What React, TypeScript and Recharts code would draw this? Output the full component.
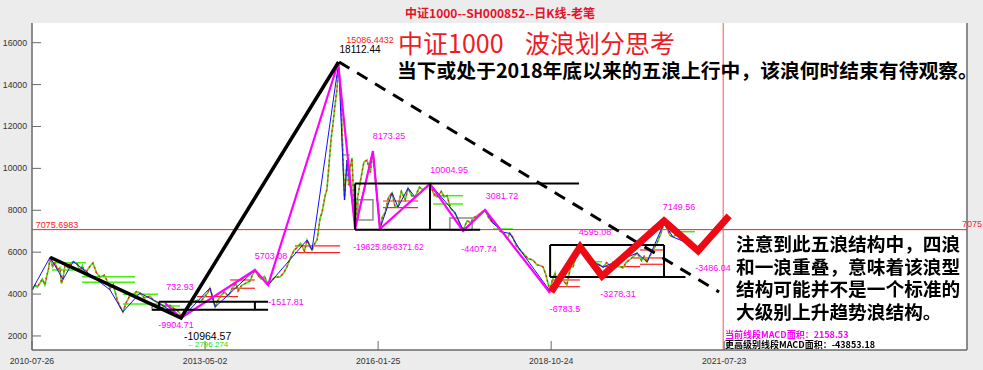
import {
  LineChart,
  Line,
  XAxis,
  YAxis,
  ReferenceLine,
  ReferenceArea,
  ReferenceDot,
} from "recharts";

// x is a trading-day index counted from 2010-07-26
const dateTicks = [0, 670, 1340, 2010, 2680];
const dateLabels = ["2010-07-26", "2013-05-02", "2016-01-25", "2018-10-24", "2021-07-23"];
const priceTicks = [2000, 4000, 6000, 8000, 10000, 12000, 14000, 16000];

// daily close, [day, price]
const close2010 = [
  [0, 4200], [12, 4420], [20, 4330], [31, 4530], [40, 4720], [50, 4440], [58, 4900], [64, 5200],
  [70, 5760], [80, 5300], [89, 5480], [100, 5150], [108, 5260], [114, 4500], [120, 4750], [128, 5400],
  [140, 5250], [150, 5480], [160, 5550], [175, 5450], [186, 5100], [195, 5350], [205, 4950], [217, 5200],
  [228, 5380], [236, 5480], [250, 5000], [263, 4820], [280, 4900], [292, 4600], [302, 4250], [315, 4450],
  [329, 3750], [340, 3420], [352, 3150], [365, 3600], [380, 3950], [391, 3980], [405, 4120], [418, 4050],
  [435, 3820], [457, 3900], [470, 3700], [484, 3620], [500, 3500], [515, 3420], [535, 3460], [550, 3300],
  [561, 3240], [572, 3080], [581, 2860], [595, 3200], [610, 3420], [623, 3580], [640, 3720], [650, 3600],
  [660, 3750],
];
const close2013 = [
  [670, 3900], [680, 4050], [689, 4290], [700, 3820], [709, 3380], [720, 3700], [728, 3860], [745, 4100],
  [760, 3900], [778, 4340], [790, 4500], [798, 4150], [812, 4420], [825, 4500], [844, 4620], [853, 4900],
  [863, 5150], [875, 4900], [887, 4720], [900, 4850], [914, 4450], [925, 4600], [940, 4800], [960, 4820],
  [975, 5020], [987, 5300], [1000, 5700], [1015, 6100], [1026, 6220], [1040, 6420], [1055, 6050],
  [1065, 6580], [1075, 6300], [1084, 6100], [1095, 6420], [1104, 6600], [1115, 7600], [1123, 7900],
  [1135, 8700], [1142, 9000], [1150, 10200], [1158, 11400], [1165, 12100], [1173, 13000], [1181, 13800],
  [1187, 15030],
];
const close2015 = [
  [1192, 14200], [1196, 13400], [1200, 12000], [1204, 10500], [1210, 8500], [1215, 9600], [1220, 10400],
  [1226, 9200], [1231, 10000], [1239, 10500], [1245, 8600], [1251, 7200], [1258, 8400], [1270, 9300],
  [1285, 10300], [1297, 10400], [1310, 9800], [1320, 10830], [1328, 9800], [1336, 8600], [1342, 7900],
  [1347, 7120], [1357, 7700], [1367, 7870], [1380, 8600], [1394, 8830], [1405, 8200], [1417, 8150],
  [1430, 8900], [1445, 8500], [1456, 9060], [1470, 8700], [1483, 8630], [1500, 9100], [1514, 8970],
  [1530, 9150], [1541, 9260], [1555, 8800], [1568, 8630], [1585, 8900], [1595, 8640], [1607, 8700],
  [1620, 8100], [1638, 7870], [1655, 7400], [1669, 7060], [1685, 7500], [1700, 7400], [1708, 7630],
  [1725, 7750], [1740, 7900], [1754, 8010], [1770, 7600], [1785, 7390], [1800, 7300], [1812, 7000],
  [1824, 6950], [1840, 6650], [1850, 6900], [1862, 6700], [1875, 6300], [1890, 6100], [1905, 5900],
  [1920, 5700], [1940, 5620], [1955, 5400], [1970, 5350], [1979, 5290], [1990, 4900],
];
const close2018 = [
  [2005, 4150], [2015, 4700], [2025, 5000], [2033, 4430], [2045, 4750], [2060, 4600], [2071, 4430],
  [2085, 5300], [2095, 5300], [2110, 6000], [2122, 6260], [2135, 5900], [2149, 5630], [2160, 5700],
  [2172, 5530], [2190, 5450], [2211, 5290], [2225, 5500], [2238, 5350], [2250, 5530], [2270, 5350],
  [2288, 5250], [2300, 5500], [2320, 5700], [2343, 5960], [2360, 5600], [2370, 5800], [2381, 5530],
  [2400, 6000], [2420, 6440], [2435, 6900], [2447, 7390], [2460, 7100], [2470, 6800], [2482, 6720],
  [2500, 6900], [2521, 6580], [2540, 6500], [2555, 6300], [2575, 6250], [2590, 6300], [2600, 6500],
  [2614, 6440], [2630, 6700], [2640, 6900], [2652, 7060], [2665, 7200], [2676, 7300],
];

// swing points of the wave drawings
const subWave = [
  [0, 4200], [70, 5760], [120, 4700], [160, 5550], [302, 4200], [352, 3150], [418, 4050], [484, 3620],
  [581, 2860], [689, 4290], [709, 3380], [863, 5150], [914, 4434], [1065, 6580], [1084, 6100],
  [1187, 15030], [1210, 8500], [1220, 10400], [1251, 7200], [1320, 10830], [1347, 7100], [1394, 8830],
  [1417, 8150], [1456, 9060], [1483, 8630], [1541, 9260], [1638, 7870], [1669, 7060], [1754, 8010],
  [1785, 7390], [1824, 6950], [1850, 6900], [1890, 6100], [2005, 4150], [2122, 6260], [2172, 5530],
  [2211, 5290], [2343, 5960], [2381, 5530], [2447, 7390], [2482, 6720], [2575, 6250], [2676, 7300],
];
const segmentWave = [
  [515, 3575], [577, 2860], [863, 5150], [914, 4434], [1185, 15030], [1251, 7107], [1320, 10830],
  [1347, 7107], [1541, 9255], [1669, 7010], [1754, 8014], [2006, 4050],
];
const trendWave = [[70, 5757], [577, 2860], [1187, 15080]];
const trendLine = [[1189, 15080], [2660, 4100]];
const fiveWave = [[2010, 4100], [2122, 6250], [2207, 4860], [2447, 7490], [2579, 6060], [2699, 7730]];

// central zones: [y, x1, x2]
const greenZones = [
  [5499, 77, 209], [5150, 77, 209], [4830, 194, 399], [4563, 194, 399], [3990, 352, 488],
  [3527, 352, 488], [3432, 507, 573], [10640, 1200, 1231], [8697, 1553, 1669], [8300, 1553, 1669],
  [7107, 1785, 1862], [6978, 2463, 2567], [5546, 2172, 2207],
];
const redZones = [
  [3876, 639, 798], [4673, 767, 863], [4277, 778, 863], [6296, 1018, 1193], [5976, 1018, 1193],
  [8444, 1359, 1495], [8124, 1359, 1495], [4673, 2017, 2122], [4353, 2017, 2122], [5308, 2211, 2354],
  [5723, 2327, 2443], [6105, 2354, 2447], [5422, 2354, 2447],
];
// [x1, x2, y1, y2]
const grayBoxes = [[465, 507, 3240, 3480], [1262, 1320, 7537, 8500], [1618, 1704, 7059, 7632]];
// black frames: [x1, y1, x2, y2]
const frameLines = [
  [492, 3637, 914, 3637], [465, 3255, 914, 3255], [492, 3255, 492, 3637], [863, 3255, 863, 3637],
  [1251, 9280, 2118, 9280], [1251, 7074, 1735, 7074], [1251, 7074, 1251, 9280], [1541, 7074, 1541, 9280],
  [2006, 6343, 2447, 6343], [2006, 4816, 2530, 4816], [2006, 4816, 2006, 6343], [2447, 4816, 2447, 6343],
];

const lastClose = 7075.6983;
const lastDay = 2676;

const waveLabels = [
  { d: 1309, v: 16130, text: "15086.4432", color: "#ff2020", size: 9 },
  { d: 1270, v: 15700, text: "18112.44", color: "#000", size: 10 },
  { d: 1382, v: 11546, text: "8173.25", color: "#ff00ff", size: 9 },
  { d: 1615, v: 9923, text: "10004.95", color: "#ff00ff", size: 9 },
  { d: 1820, v: 8682, text: "3081.72", color: "#ff00ff", size: 9 },
  { d: 1318, v: 6248, text: "-19625.86", color: "#ff00ff", size: 8.5 },
  { d: 1452, v: 6248, text: "-6371.62", color: "#ff00ff", size: 8.5 },
  { d: 1731, v: 6152, text: "-4407.74", color: "#ff00ff", size: 9 },
  { d: 2180, v: 6964, text: "4595.08", color: "#ff00ff", size: 9 },
  { d: 2064, v: 3289, text: "-6783.5", color: "#ff00ff", size: 9 },
  { d: 2269, v: 4005, text: "-3278.31", color: "#ff00ff", size: 9 },
  { d: 2505, v: 8157, text: "7149.56", color: "#ff00ff", size: 9 },
  { d: 2637, v: 5246, text: "-3486.04", color: "#ff00ff", size: 9 },
  { d: 573, v: 4339, text: "732.93", color: "#ff00ff", size: 9 },
  { d: 558, v: 2520, text: "-9904.71", color: "#ff00ff", size: 9 },
  { d: 680, v: 2000, text: "-10964.57", color: "#000", size: 10.5 },
  { d: 680, v: 1600, text: "←2796.274", color: "#33dd00", size: 8 },
  { d: 925, v: 5818, text: "5703.08", color: "#ff00ff", size: 9 },
  { d: 983, v: 3623, text: "-1517.81", color: "#ff00ff", size: 9 },
  { d: 97, v: 7330, text: "7075.6983", color: "#ff2020", size: 9 },
];

const noteLines = [
  "注意到此五浪结构中，四浪",
  "和一浪重叠，意味着该浪型",
  "结构可能并不是一个标准的",
  "大级别上升趋势浪结构。",
];

const pts = (rows: number[][]) => rows.map(([d, v]) => ({ d, v }));
const allClose = pts([...close2010, ...close2013, ...close2015, ...close2018]);

const axisStroke = "#6a6a6a";
const tickFont = { fontSize: 8.7, fill: "#333", fontFamily: "Liberation Sans, Arial" };

function LeftTick({ x, y, payload }: any) {
  return (
    <g>
      <line x1={x} x2={x + 9} y1={y} y2={y} stroke={axisStroke} />
      <text x={x - 5} y={y} dy={3} textAnchor="end" {...tickFont}>{payload.value}</text>
    </g>
  );
}
function RightTick({ x, y }: any) {
  return <line x1={x - 9} x2={x} y1={y} y2={y} stroke={axisStroke} />;
}
function BottomTick({ x, y, payload, index }: any) {
  return (
    <g>
      <line x1={x} x2={x} y1={y - 9} y2={y} stroke={axisStroke} />
      <text x={x} y={y + 14} textAnchor="middle" {...tickFont}>
        {dateLabels[index] ?? payload.value}
      </text>
    </g>
  );
}
function TopTick({ x, y }: any) {
  return <line x1={x} x2={x} y1={y} y2={y + 9} stroke={axisStroke} />;
}

const cjk = '"Noto Sans CJK SC", sans-serif';

export default function App() {
  return (
    <div style={{ position: "fixed", left: 0, top: 0, width: 983, height: 370, background: "#ececec" }}>
      <div style={{ position: "absolute", left: 32, top: 23, width: 935, height: 327, background: "#fff" }} />
      <div
        style={{
          position: "absolute", left: 380, top: 6, width: 240, textAlign: "center", color: "#e8102a",
          fontFamily: cjk, fontWeight: 700, fontSize: 12, lineHeight: "13px",
        }}
      >
        中证1000--SH000852--日K线-老笔
      </div>
      <div style={{ position: "absolute", left: 0, top: 0 }}>
        <LineChart
          width={983}
          height={370}
          margin={{ top: 23, right: 0, bottom: 0, left: 0 }}
          style={{ fontFamily: "Liberation Sans, Arial" }}
        >
          <XAxis
            dataKey="d" type="number" domain={[0, 3620]} ticks={dateTicks} allowDataOverflow
            height={20} tickSize={0} tickMargin={0} tick={<BottomTick />}
            axisLine={{ stroke: axisStroke, strokeWidth: 1.5 }}
          />
          <XAxis
            xAxisId="top" orientation="top" dataKey="d" type="number" domain={[0, 3620]} ticks={dateTicks}
            height={0} tickSize={0} tickMargin={0} tick={<TopTick />}
            axisLine={{ stroke: axisStroke, strokeWidth: 1.5 }}
          />
          <YAxis
            dataKey="v" type="number" domain={[1330, 16940]} ticks={priceTicks} allowDataOverflow
            width={32} tickSize={0} tickMargin={0} tick={<LeftTick />}
            axisLine={{ stroke: axisStroke, strokeWidth: 1.5 }}
          />
          <YAxis
            yAxisId="right" orientation="right" type="number" domain={[1330, 16940]} ticks={priceTicks}
            width={16} tickSize={0} tickMargin={0} tick={<RightTick />}
            axisLine={{ stroke: axisStroke, strokeWidth: 1.5 }}
          />

          {greenZones.map(([y, x1, x2], i) => (
            <ReferenceLine key={`g${i}`} segment={[{ x: x1, y }, { x: x2, y }]} stroke="#44ee11" strokeWidth={1.5} />
          ))}
          {redZones.map(([y, x1, x2], i) => (
            <ReferenceLine key={`r${i}`} segment={[{ x: x1, y }, { x: x2, y }]} stroke="#ff2020" strokeWidth={1.2} />
          ))}
          {grayBoxes.map(([x1, x2, y1, y2], i) => (
            <ReferenceArea key={`b${i}`} x1={x1} x2={x2} y1={y1} y2={y2} fill="none" fillOpacity={0} stroke="#8a8a8a" strokeWidth={1.5} />
          ))}
          <ReferenceLine y={lastClose} stroke="#ff2020" strokeWidth={1} />
          <ReferenceLine x={lastDay} stroke="#ff5050" strokeWidth={1} />

          <Line data={allClose} dataKey="v" stroke="#44dd11" strokeWidth={1.6} dot={false} isAnimationActive={false} />
          <Line data={allClose} dataKey="v" stroke="#ff2020" strokeWidth={1.4} strokeDasharray="2 3" dot={false} isAnimationActive={false} />
          <Line data={pts(subWave)} dataKey="v" stroke="#1010ff" strokeWidth={1} dot={false} isAnimationActive={false} />
          <Line data={pts(segmentWave)} dataKey="v" stroke="#ff00ff" strokeWidth={2.2} dot={false} isAnimationActive={false} />

          {frameLines.map(([x1, y1, x2, y2], i) => (
            <ReferenceLine key={`f${i}`} segment={[{ x: x1, y: y1 }, { x: x2, y: y2 }]} stroke="#000" strokeWidth={2} />
          ))}

          <Line data={pts(trendWave)} dataKey="v" stroke="#000" strokeWidth={3.5} dot={false} isAnimationActive={false} />
          <Line data={pts(trendLine)} dataKey="v" stroke="#000" strokeWidth={3} strokeDasharray="12 9" dot={false} isAnimationActive={false} />
          <Line data={pts(fiveWave)} dataKey="v" stroke="#ee0a14" strokeWidth={7} dot={false} isAnimationActive={false} />

          {waveLabels.map((l, i) => (
            <ReferenceDot
              key={`l${i}`} x={l.d} y={l.v} r={0} stroke="none" fill="none"
              label={{ value: l.text, position: "center", fill: l.color, fontSize: l.size }}
            />
          ))}
        </LineChart>
      </div>

      <div style={{ position: "absolute", left: 962, top: 219, color: "#ff2020", fontSize: 9, fontFamily: "Liberation Sans, Arial" }}>
        7075.
      </div>
      <div style={{ position: "absolute", left: 398, top: 30, color: "#ee1c25", fontFamily: cjk, fontSize: 25, lineHeight: "25px", whiteSpace: "nowrap" }}>
        中证1000
      </div>
      <div style={{ position: "absolute", left: 525, top: 30, color: "#ee1c25", fontFamily: cjk, fontSize: 25, lineHeight: "25px", whiteSpace: "nowrap" }}>
        波浪划分思考
      </div>
      <div style={{ position: "absolute", left: 397, top: 60, color: "#000", fontFamily: cjk, fontWeight: 700, fontSize: 19.8, lineHeight: "20px", whiteSpace: "nowrap" }}>
        当下或处于2018年底以来的五浪上行中，该浪何时结束有待观察。
      </div>
      <div style={{ position: "absolute", left: 736, top: 232, color: "#000", fontFamily: cjk, fontWeight: 700, fontSize: 18.7, lineHeight: "22.7px", whiteSpace: "nowrap" }}>
        {noteLines.map((t) => (
          <div key={t}>{t}</div>
        ))}
      </div>
      <div style={{ position: "absolute", left: 725, top: 330, color: "#ff00ff", fontFamily: cjk, fontWeight: 700, fontSize: 9, lineHeight: "10px", whiteSpace: "nowrap" }}>
        当前线段MACD面积：2158.53
      </div>
      <div style={{ position: "absolute", left: 725, top: 340, color: "#000", fontFamily: cjk, fontWeight: 700, fontSize: 9, lineHeight: "10px", whiteSpace: "nowrap" }}>
        更高级别线段MACD面积：-43853.18
      </div>
    </div>
  );
}
